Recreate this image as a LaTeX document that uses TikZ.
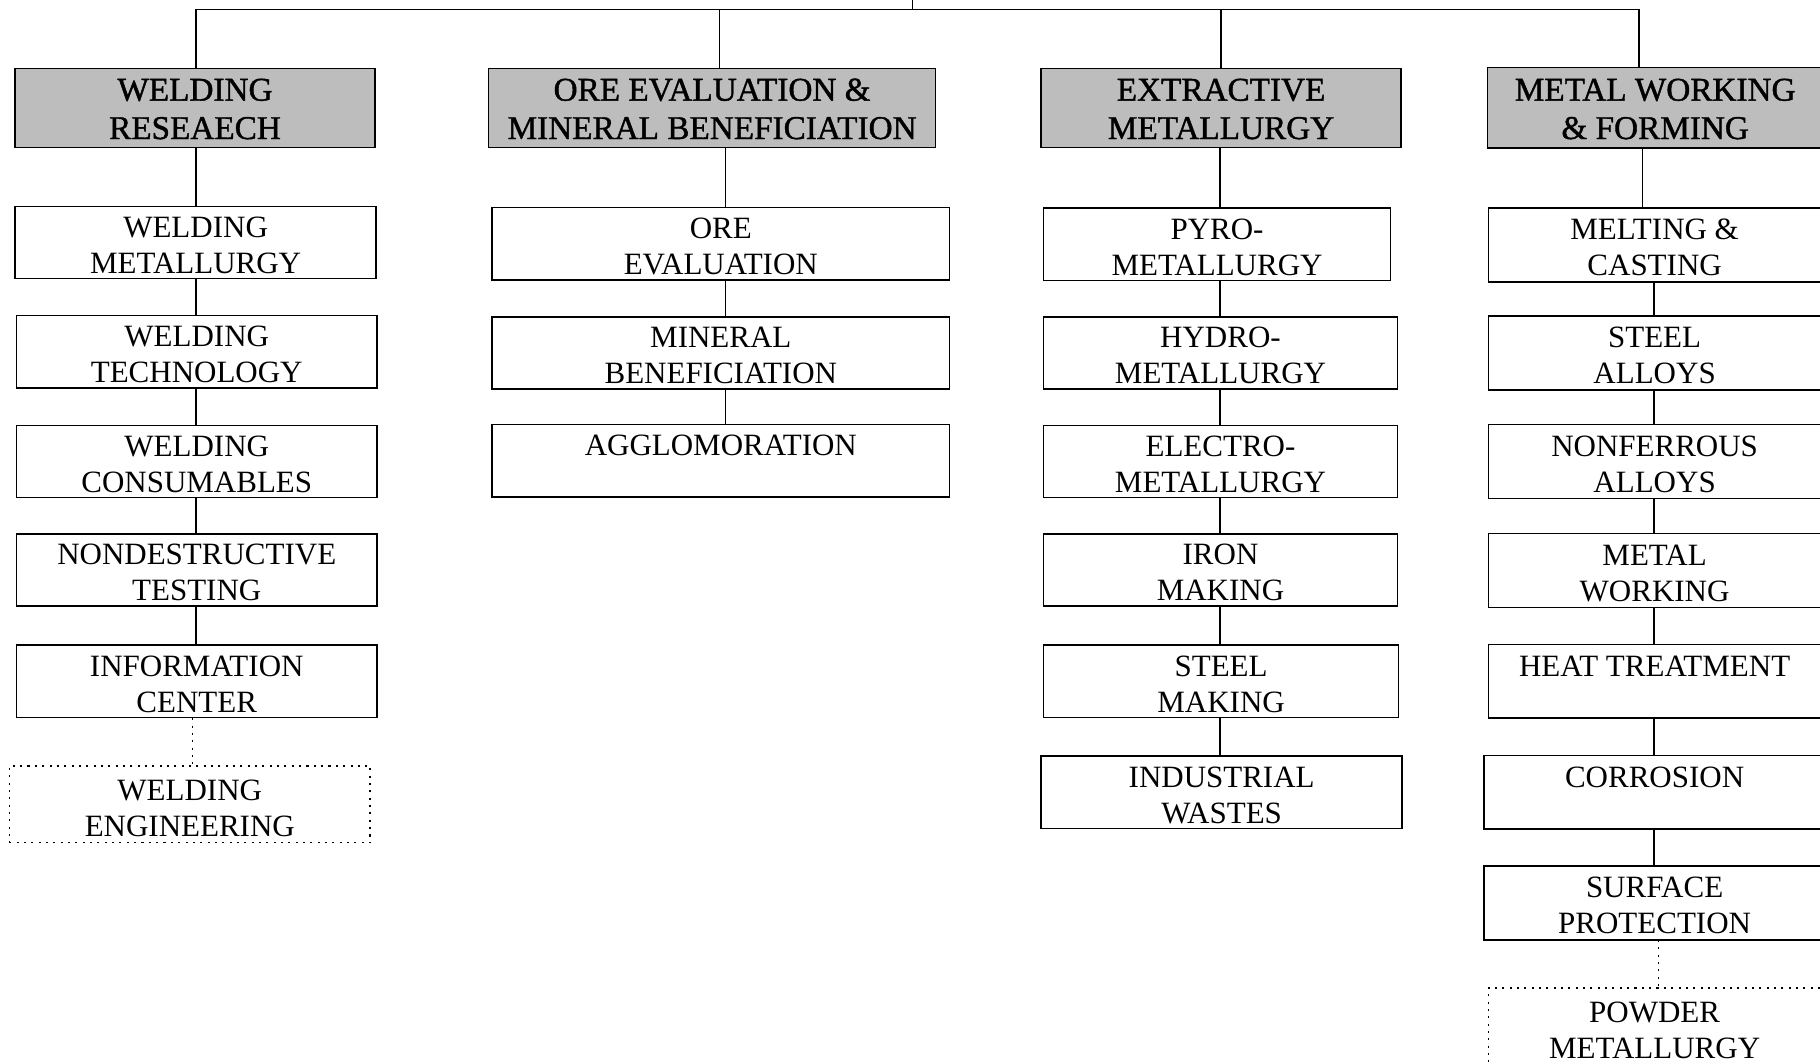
\documentclass[tikz,border=0pt]{standalone}
\usepackage{fontspec}
\setmainfont{Liberation Serif}
\newfontfamily\hdrfam{Liberation Serif}[FakeBold=1.2]
\newcommand\boxfnt{\fontsize{15.2}{17.6}\selectfont}
\newcommand\hdrfnt{\hdrfam\fontsize{16.3}{18.8}\selectfont}
% two centred lines, the baseline of the first one is the baseline of the whole
\newcommand\lbl[2]{\begin{tabular}[t]{@{}c@{}}#1\\#2\end{tabular}}
\definecolor{shade}{gray}{0.74}
\begin{document}
\begin{tikzpicture}[x=0.02cm,y=-0.02cm,
  frame/.style={line width=0.75pt},
  box/.style={draw, frame, inner sep=0pt, font=\boxfnt, text height=0.535cm, text depth=0.71cm},
  hdr/.style={draw, frame, fill=shade, inner sep=0pt, font=\hdrfnt, text height=0.555cm, text depth=0.805cm},
  dotbox/.style={box, dash pattern=on 1pt off 2.6pt},
  openbox/.style={box, draw=none},
  openhdr/.style={hdr, draw=none},
  link/.style={line width=0.75pt},
  dotlink/.style={link, dash pattern=on 1pt off 2.6pt}]

\useasboundingbox (0,0) rectangle (1568,916);
\clip (0,0) rectangle (1568,916);

% ---------- welding research ----------
\node[hdr, minimum width=6.2cm] (wr) at (168,93) {\lbl{WELDING}{RESEAECH}};
\node[box, minimum width=6.22cm] (w1) at (168.5,209) {\lbl{WELDING}{METALLURGY}};
\node[box, minimum width=6.22cm] (w2) at (169.5,303) {\lbl{WELDING}{TECHNOLOGY}};
\node[box, minimum width=6.22cm] (w3) at (169.5,397.5) {\lbl{WELDING}{CONSUMABLES}};
\node[box, minimum width=6.22cm] (w4) at (169.5,491) {\lbl{NONDESTRUCTIVE}{TESTING}};
\node[box, minimum width=6.22cm] (w5) at (169.5,587) {\lbl{INFORMATION}{CENTER}};
\node[dotbox, minimum width=6.22cm, text height=0.6cm, text depth=0.72cm] (w6) at (163.5,693) {\lbl{WELDING}{ENGINEERING}};

% ---------- ore evaluation ----------
\node[hdr, minimum width=7.7cm] (or) at (613.5,93) {\lbl{ORE EVALUATION \&}{MINERAL BENEFICIATION}};
\node[box, minimum width=7.88cm] (o1) at (621,210) {\lbl{ORE}{EVALUATION}};
\node[box, minimum width=7.88cm] (o2) at (621,304) {\lbl{MINERAL}{BENEFICIATION}};
\node[box, minimum width=7.88cm] (o3) at (621,397) {AGGLOMORATION};

% ---------- extractive metallurgy ----------
\node[hdr, minimum width=6.2cm] (ex) at (1052,93) {\lbl{EXTRACTIVE}{METALLURGY}};
\node[box, minimum width=5.98cm] (e1) at (1048.5,210.5) {\lbl{PYRO-}{METALLURGY}};
\node[box, minimum width=6.1cm] (e2) at (1051.5,304) {\lbl{HYDRO-}{METALLURGY}};
\node[box, minimum width=6.1cm] (e3) at (1051.5,397.5) {\lbl{ELECTRO-}{METALLURGY}};
\node[box, minimum width=6.1cm] (e4) at (1051.5,491) {\lbl{IRON}{MAKING}};
\node[box, minimum width=6.12cm] (e5) at (1052,587) {\lbl{STEEL}{MAKING}};
\node[box, minimum width=6.22cm] (e6) at (1052.5,682.5) {\lbl{INDUSTRIAL}{WASTES}};

% ---------- metal working & forming (running past the right edge) ----------
\node[openhdr, minimum width=5.76cm] (mw) at (1426,93) {\lbl{METAL WORKING}{\& FORMING}};
\fill[shade] (mw.north east) rectangle ([xshift=1cm]mw.south east);
\node[openbox, minimum width=5.7cm] (m1) at (1425.5,211) {\lbl{MELTING \&}{CASTING}};
\node[openbox, minimum width=5.7cm] (m2) at (1425.5,304) {\lbl{STEEL}{ALLOYS}};
\node[openbox, minimum width=5.7cm] (m3) at (1425.5,397.5) {\lbl{NONFERROUS}{ALLOYS}};
\node[openbox, minimum width=5.7cm] (m4) at (1425.5,491.5) {\lbl{METAL}{WORKING}};
\node[openbox, minimum width=5.7cm] (m5) at (1425.5,587) {HEAT TREATMENT};
\node[openbox, minimum width=5.86cm] (m6) at (1425.5,682.5) {CORROSION};
\node[openbox, minimum width=5.86cm] (m7) at (1425.5,778) {\lbl{SURFACE}{PROTECTION}};
\node[openbox, minimum width=5.7cm, text height=0.58cm, text depth=0.78cm] (m8) at (1425.5,886) {\lbl{POWDER}{METALLURGY}};
\foreach \n in {mw,m1,m2,m3,m4,m5,m6,m7}
  \draw[frame] ([xshift=1cm]\n.north east) -- (\n.north west) -- (\n.south west) -- ([xshift=1cm]\n.south east);
\draw[frame, dash pattern=on 1pt off 2.6pt] ([xshift=1cm]m8.north east) -- (m8.north west) -- (m8.south west) -- ([xshift=1cm]m8.south east);

% ---------- top bus ----------
\coordinate (b1) at (169,8);
\coordinate (b2) at (620,8);
\coordinate (b3) at (1052,8);
\coordinate (b4) at (1412,8);
\coordinate (bt) at (786,8);
\coordinate (up) at (786,-5);
\draw[link] (b1) -- (b4);
\draw[link] (bt) -- (up);
\draw[link] (b1) -- (b1 |- wr.north);
\draw[link] (b2) -- (b2 |- or.north);
\draw[link] (b3) -- (b3 |- ex.north);
\draw[link] (b4) -- (b4 |- mw.north);

% ---------- column spines ----------
\coordinate (s1) at (169,0);
\coordinate (d1) at (166,0);
\coordinate (s2) at (625,0);
\coordinate (s3) at (1051,0);
\coordinate (s4a) at (1415,0);
\coordinate (s4) at (1425,0);
\coordinate (d4) at (1429,0);

\foreach \a/\b in {wr/w1,w1/w2,w2/w3,w3/w4,w4/w5}
  \draw[link] (\a.south -| s1) -- (\b.north -| s1);
\draw[dotlink] (w5.south -| d1) -- (w6.north -| d1);

\foreach \a/\b in {or/o1,o1/o2,o2/o3}
  \draw[link] (\a.south -| s2) -- (\b.north -| s2);

\foreach \a/\b in {ex/e1,e1/e2,e2/e3,e3/e4,e4/e5,e5/e6}
  \draw[link] (\a.south -| s3) -- (\b.north -| s3);

\draw[link] (mw.south -| s4a) -- (m1.north -| s4a);
\foreach \a/\b in {m1/m2,m2/m3,m3/m4,m4/m5,m5/m6,m6/m7}
  \draw[link] (\a.south -| s4) -- (\b.north -| s4);
\draw[dotlink] (m7.south -| d4) -- (m8.north -| d4);
\end{tikzpicture}
\end{document}
